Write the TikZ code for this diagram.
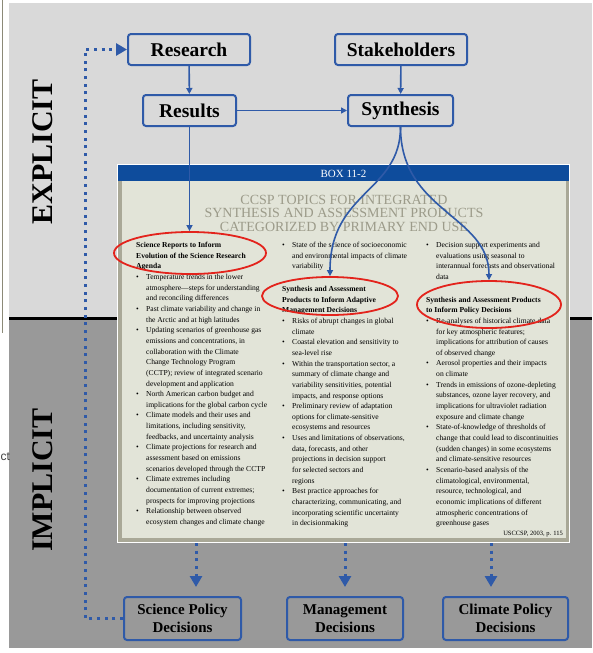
\documentclass[tikz,border=0pt]{standalone}
\usepackage{fontspec}
\setmainfont{Liberation Serif}
\newfontfamily\arialfont{Liberation Sans}
\usetikzlibrary{shapes.geometric,arrows.meta}

\definecolor{lightbg}{HTML}{D9D9D9}
\definecolor{darkbg}{HTML}{999999}
\definecolor{flowblue}{HTML}{2F5AA8}
\definecolor{boxblue}{HTML}{0E4C9C}
\definecolor{pagebg}{HTML}{E2E4D8}
\definecolor{pageedge}{HTML}{A9A897}
\definecolor{titlegray}{HTML}{9C9B8A}
\definecolor{circred}{HTML}{E3231C}
\definecolor{edgeline}{HTML}{8C8A78}

\newcommand{\bitem}[1]{\makebox[10pt][l]{\textbullet}#1}
\newcommand{\bcont}[1]{\hspace*{10pt}#1}

\begin{document}
\begin{tikzpicture}
  [x=1pt,y=-1pt,
   topbox/.style={draw=flowblue,line width=2pt,rounded corners=3pt,minimum height=31pt,inner sep=0pt,
     font=\fontsize{19.5}{22}\selectfont\bfseries},
   endbox/.style={draw=flowblue,line width=2pt,rounded corners=3pt,minimum height=43pt,inner sep=0pt,
     align=center,font=\fontsize{15}{18}\selectfont\bfseries},
   flow/.style={draw=flowblue,line width=1.6pt,-{Triangle[length=6pt,width=6pt]}},
   dots/.style={draw=flowblue,line width=3pt,dash pattern=on 3pt off 4.7pt,-{Triangle[length=11pt,width=12pt]}},
   ring/.style={draw=circred,line width=1.8pt,ellipse,inner sep=0pt},
   column/.style={anchor=north west,inner sep=0pt,align=left,font=\fontsize{7.6}{10.65}\selectfont},
   sidelabel/.style={rotate=90,font=\fontsize{30}{30}\selectfont\bfseries}]
  \useasboundingbox (0,0) rectangle (592,653);

  % background bands
  \fill[white] (0,0) rectangle (592,653);
  \fill[lightbg] (9,3) rectangle (592,318);
  \fill[darkbg] (9,318) rectangle (592,648);
  \draw[line width=3pt] (9,318.5) -- (592,318.5);
  \draw[edgeline,line width=1pt] (2.5,0) -- (2.5,333);
  \node[anchor=west,inner sep=0pt,text=black!75,font=\arialfont\fontsize{12}{12}\selectfont] (cut) at (0.5,457) {ct};

  \node[sidelabel] (explicit) at (43,152) {EXPLICIT};
  \node[sidelabel] (implicit) at (43,480) {IMPLICIT};

  % flow boxes
  \node[topbox,minimum width=122pt] (research) at (189,49.5) {Research};
  \node[topbox,minimum width=132pt] (stake) at (401,49.5) {Stakeholders};
  \node[topbox,minimum width=93pt] (results) at (189.5,110.5) {Results};
  \node[topbox,minimum width=105pt] (synth) at (400.5,110.5) {Synthesis};

  \node[endbox,minimum width=117pt] (sci) at (182.5,618.5) {Science Policy\\Decisions};
  \node[endbox,minimum width=116pt] (mgmt) at (345,618.5) {Management\\Decisions};
  \node[endbox,minimum width=125pt] (clim) at (505.5,618.5) {Climate Policy\\Decisions};

  % the box page
  \node[draw=white,line width=1.2pt,fill=pageedge,minimum width=452pt,minimum height=378pt,inner sep=0pt] (box) at (343.5,353.5) {};
  \fill[pagebg] (121.5,181) rectangle (566,538);
  \fill[boxblue] (118,165) rectangle (569,181);
  \node[text=white,font=\fontsize{11}{11}\selectfont] (boxtitle) at (343.5,173.5) {BOX 11-2};
  \node[text=titlegray,align=center,font=\fontsize{14}{13.5}\selectfont] (heading) at (344,213)
    {CCSP TOPICS FOR INTEGRATED\\SYNTHESIS AND ASSESSMENT PRODUCTS\\CATEGORIZED BY PRIMARY END USE};

  \node[column] (cola) at (136,242) {%
    \textbf{Science Reports to Inform}\\
    \textbf{Evolution of the Science Research}\\
    \textbf{Agenda}\\
    \bitem{Temperature trends in the lower}\\
    \bcont{atmosphere—steps for understanding}\\
    \bcont{and reconciling differences}\\
    \bitem{Past climate variability and change in}\\
    \bcont{the Arctic and at high latitudes}\\
    \bitem{Updating scenarios of greenhouse gas}\\
    \bcont{emissions and concentrations, in}\\
    \bcont{collaboration with the Climate}\\
    \bcont{Change Technology Program}\\
    \bcont{(CCTP); review of integrated scenario}\\
    \bcont{development and application}\\
    \bitem{North American carbon budget and}\\
    \bcont{implications for the global carbon cycle}\\
    \bitem{Climate models and their uses and}\\
    \bcont{limitations, including sensitivity,}\\
    \bcont{feedbacks, and uncertainty analysis}\\
    \bitem{Climate projections for research and}\\
    \bcont{assessment based on emissions}\\
    \bcont{scenarios developed through the CCTP}\\
    \bitem{Climate extremes including}\\
    \bcont{documentation of current extremes;}\\
    \bcont{prospects for improving projections}\\
    \bitem{Relationship between observed}\\
    \bcont{ecosystem changes and climate change}};

  \node[column] (colb) at (282,242) {%
    \bitem{State of the science of socioeconomic}\\
    \bcont{and environmental impacts of climate}\\
    \bcont{variability}\\[12pt]
    \textbf{Synthesis and Assessment}\\
    \textbf{Products to Inform Adaptive}\\
    \textbf{Management Decisions}\\
    \bitem{Risks of abrupt changes in global}\\
    \bcont{climate}\\
    \bitem{Coastal elevation and sensitivity to}\\
    \bcont{sea-level rise}\\
    \bitem{Within the transportation sector, a}\\
    \bcont{summary of climate change and}\\
    \bcont{variability sensitivities, potential}\\
    \bcont{impacts, and response options}\\
    \bitem{Preliminary review of adaptation}\\
    \bcont{options for climate-sensitive}\\
    \bcont{ecosystems and resources}\\
    \bitem{Uses and limitations of observations,}\\
    \bcont{data, forecasts, and other}\\
    \bcont{projections in decision support}\\
    \bcont{for selected sectors and}\\
    \bcont{regions}\\
    \bitem{Best practice approaches for}\\
    \bcont{characterizing, communicating, and}\\
    \bcont{incorporating scientific uncertainty}\\
    \bcont{in decisionmaking}};

  \node[column] (colc) at (426,242) {%
    \bitem{Decision support experiments and}\\
    \bcont{evaluations using seasonal to}\\
    \bcont{interannual forecasts and observational}\\
    \bcont{data}\\[12pt]
    \textbf{Synthesis and Assessment Products}\\
    \textbf{to Inform Policy Decisions}\\
    \bitem{Re-analyses of historical climate data}\\
    \bcont{for key atmospheric features;}\\
    \bcont{implications for attribution of causes}\\
    \bcont{of observed change}\\
    \bitem{Aerosol properties and their impacts}\\
    \bcont{on climate}\\
    \bitem{Trends in emissions of ozone-depleting}\\
    \bcont{substances, ozone layer recovery, and}\\
    \bcont{implications for ultraviolet radiation}\\
    \bcont{exposure and climate change}\\
    \bitem{State-of-knowledge of thresholds of}\\
    \bcont{change that could lead to discontinuities}\\
    \bcont{(sudden changes) in some ecosystems}\\
    \bcont{and climate-sensitive resources}\\
    \bitem{Scenario-based analysis of the}\\
    \bcont{climatological, environmental,}\\
    \bcont{resource, technological, and}\\
    \bcont{economic implications of different}\\
    \bcont{atmospheric concentrations of}\\
    \bcont{greenhouse gases}};

  \node[anchor=base east,inner sep=0pt,font=\fontsize{6.5}{7}\selectfont] (credit) at (563,535) {USCCSP, 2003, p. 115};

  % red rings
  \node[ring,minimum width=152pt,minimum height=42pt] (ringa) at (190,253) {};
  \node[ring,minimum width=136pt,minimum height=38pt] (ringb) at (330,296) {};
  \node[ring,minimum width=144pt,minimum height=47pt] (ringc) at (489,304.5) {};

  % connectors
  \foreach \from/\to in {research/results,stake/synth,results/synth}
    \draw[flow] (\from) -- (\to);
  \draw[flow] (results.south) -- (results.south |- ringa.north);
  \draw[flow] (synth.south) .. controls +(0,65) and +(0,-85) .. (ringb.north);
  \draw[flow] (synth.south) .. controls +(0,85) and +(0,-65) .. (ringc.north);

  \coordinate (outa) at (196,543);
  \coordinate (outb) at (345,543);
  \coordinate (outc) at (491,543);
  \foreach \from/\to in {outa/sci,outb/mgmt,outc/clim}
    \draw[dots,shorten >=9pt] (\from) -- (\from |- \to.north);
  \draw[dots] (sci.west) -- ++(-38,0) |- (research.west);
\end{tikzpicture}
\end{document}
